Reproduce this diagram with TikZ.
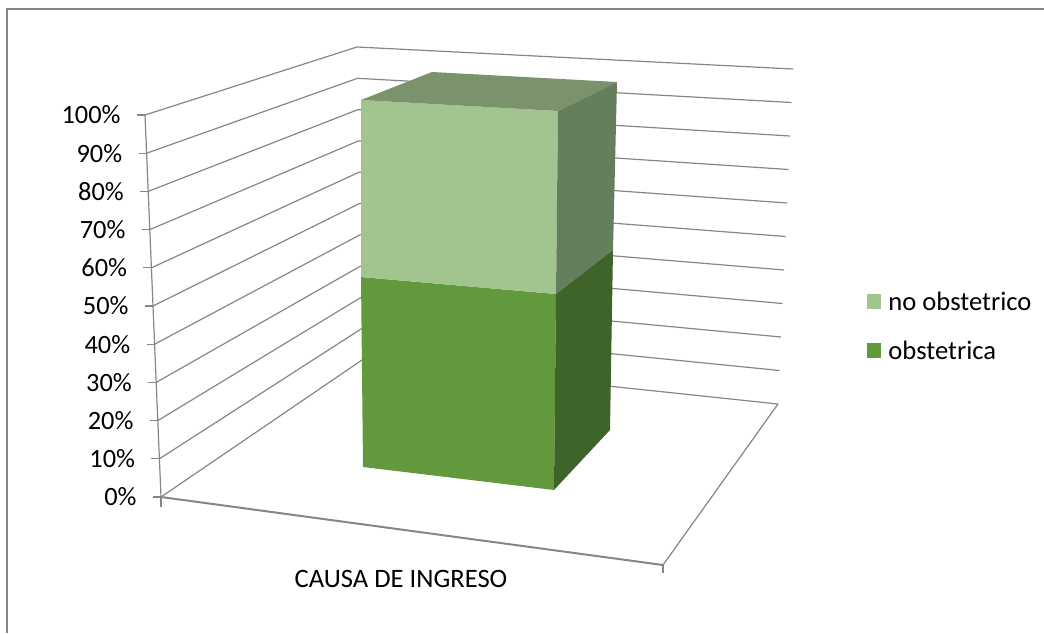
\documentclass[tikz,border=0pt]{standalone}
\usepackage{fontspec}
\setmainfont{Carlito}
\usetikzlibrary{positioning}
\definecolor{gridgray}{RGB}{134,134,134}
\definecolor{noobstfront}{RGB}{162,196,143}
\definecolor{noobsttop}{RGB}{122,147,108}
\definecolor{noobstside}{RGB}{101,126,91}
\definecolor{obstfront}{RGB}{98,153,61}
\definecolor{obstside}{RGB}{63,100,41}

\begin{document}
\begin{tikzpicture}[x=0.5pt,y=-0.5pt,
    grid/.style={draw=gridgray,line width=0.6pt},
    axislabel/.style={anchor=east,inner sep=0pt,font=\fontsize{13.2}{15}\selectfont},
    legendtext/.style={anchor=west,inner sep=0pt,font=\fontsize{13.3}{15}\selectfont}]
            \useasboundingbox (0,0) rectangle (1044,633);
            % Frame
            \draw[grid] (7,633) -- (7,9) -- (1044,9);
            % Walls with gridlines
            \foreach \k in {0,...,10}{
                \pgfmathtruncatemacro\pct{10*\k}
                \coordinate (f\k) at ({161-1.6*\k},{497-38.2*\k});
                \coordinate (b\k) at ({362-0.5*\k},{360-31.3*\k});
                \coordinate (r\k) at ({778+1.5*\k},{404-33.5*\k});
                \draw[grid] (f\k) -- (b\k) -- (r\k);
                \draw[grid] (f\k) -- ++(-8,0);
                \node[axislabel] (lab\k) at ([xshift=-12pt]f\k) {\pct\%};
            }
            \draw[grid] (f0) -- (f10);
            % Floor
            \coordinate (fr) at (663,565);
            \draw[grid,line width=1pt] (f0) -- (fr);
            \draw[grid] (fr) -- (r0);
            \draw[grid] (f0) -- ++(0,10);
            \draw[grid] (fr) -- ++(0,8);
            % Column
            \coordinate (ftl) at (361,100);
            \coordinate (ftr) at (558,111);
            \coordinate (fml) at (361,277);
            \coordinate (fmr) at (556,294);
            \coordinate (fbl) at (363,467);
            \coordinate (fbr) at (554,490);
            \coordinate (btl) at (432,72);
            \coordinate (btr) at (617,82);
            \coordinate (bmr) at (613,250);
            \coordinate (bbr) at (610,430);
            \fill[obstfront] (fml) -- (fmr) -- (fbr) -- (fbl) -- cycle;
            \fill[noobstfront] (ftl) -- (ftr) -- (fmr) -- (fml) -- cycle;
            \fill[noobsttop] (ftl) -- (btl) -- (btr) -- (ftr) -- cycle;
            \fill[noobstside] (ftr) -- (btr) -- (bmr) -- (fmr) -- cycle;
            \fill[obstside] (fmr) -- (bmr) -- (bbr) -- (fbr) -- cycle;
            % Category
            \node[inner sep=0pt,font=\fontsize{13.3}{15}\selectfont] (cat) at (401,579) {CAUSA DE INGRESO};
            % Legend
            \fill[noobstfront] (867,294) rectangle (881,309);
            \node[legendtext] (leg1) at (888,301) {no obstetrico};
            \fill[obstfront] (867,343) rectangle (881,358);
            \node[legendtext] (leg2) at (888,350) {obstetrica};
\end{tikzpicture}
\end{document}
